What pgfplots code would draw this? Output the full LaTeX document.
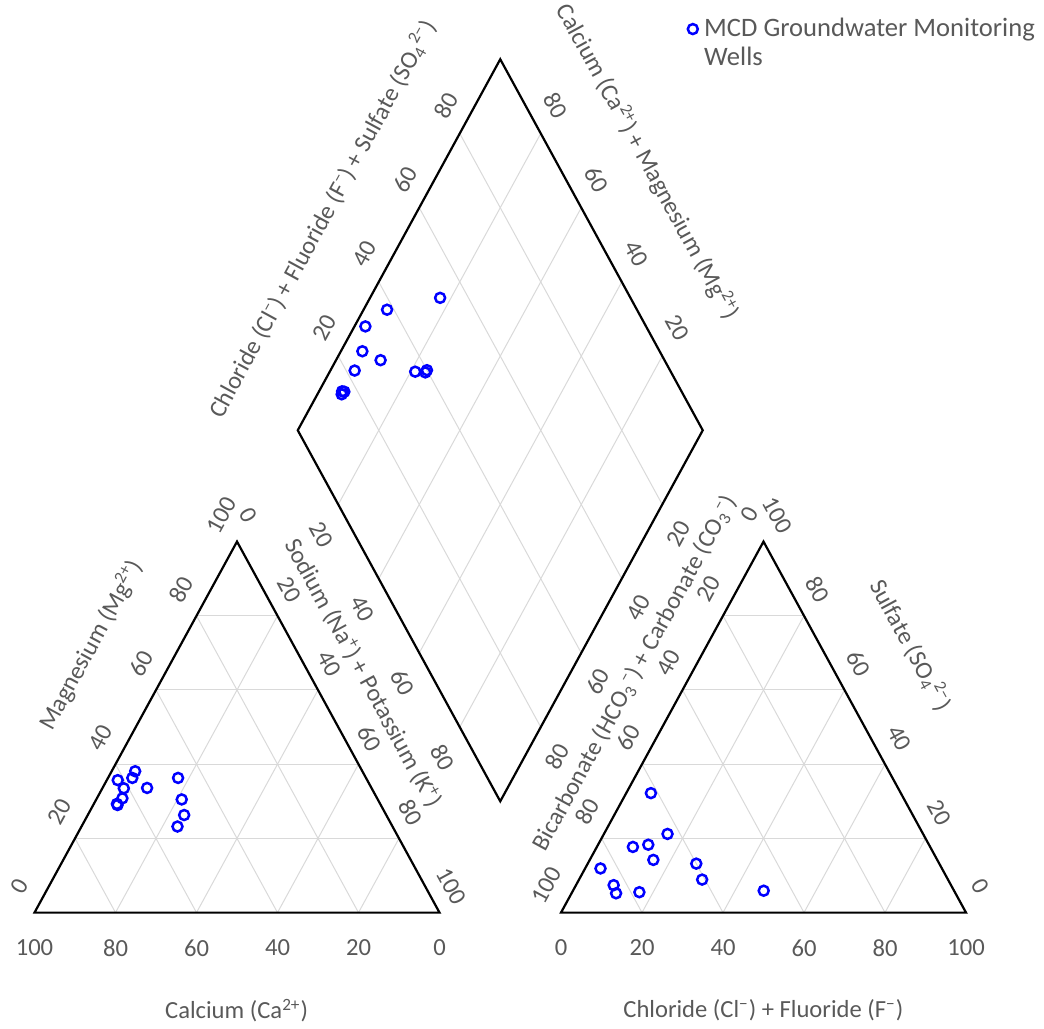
\documentclass[border=0pt]{standalone}
\usepackage{fontspec}
\setmainfont{Carlito}
\usepackage{pgfplots}
\usepackage{pgfplotstable}
\pgfplotsset{compat=1.18}
\definecolor{lbl}{HTML}{595959}
\definecolor{grd}{HTML}{D9D9D9}
\newcommand{\hh}{0.8660254}
\newcommand{\sups}[1]{\textsuperscript{#1}}
\newcommand{\subs}[1]{\textsubscript{#1}}
\tikzset{tl/.style={font=\fontsize{12.3}{14}\selectfont, text=lbl, inner sep=0pt}}

% one row per well: cation and anion percentages (meq %)
\pgfplotstableread{
Ca   Mg   Na   HCO3 Cl   SO4
46.4 36.3 17.3 47.0 47.1 5.9
56.1 38.1 5.8  61.7 6.1  32.2
61.6 35.7 2.7  69.3 12.4 18.3
61.2 33.5 5.3  73.4 8.9  17.7
55.4 33.6 11.0 70.1 15.7 14.2
57.7 36.3 6.0  77.9 16.6 5.5
48.4 30.5 21.1 63.1 15.7 21.2
49.9 26.3 23.8 60.0 26.8 13.2
53.1 23.2 23.7 60.7 30.4 8.9
62.9 30.8 6.3  83.3 9.3  7.4
65.0 29.3 5.7  83.8 11.0 5.2
65.0 29.0 6.0  84.3 3.8  11.9
}\wells

\begin{document}
\begin{tikzpicture}
\begin{axis}[
  x=2.025pt, y=2.142pt,
  xmin=-8.52, xmax=249.26, ymin=-26.96, ymax=212.77,
  hide axis, clip=false,
  legend style={at={(0.6571,0.9875)}, anchor=north west, draw=none, fill=none,
    inner sep=0pt, column sep=0.5pt, text=lbl,
    font=\fontsize{13.3}{14.5}\selectfont, cells={align=left}},
  legend image code/.code={\path (0pt,-7.25pt) (6pt,7.25pt); \draw[#1] plot coordinates {(3pt,7.25pt)};},
]
% grid lines
\pgfplotsinvokeforeach{20,40,60,80}{
 \draw[grd, line width=0.5pt] (axis cs:{#1/2},{\hh*#1}) -- (axis cs:{100-#1/2},{\hh*#1});
 \draw[grd, line width=0.5pt] (axis cs:#1,0) -- (axis cs:{50+#1/2},{\hh*(100-#1)});
 \draw[grd, line width=0.5pt] (axis cs:{100-#1},0) -- (axis cs:{50-#1/2},{\hh*(100-#1)});
 \draw[grd, line width=0.5pt] (axis cs:{130+#1/2},{\hh*#1}) -- (axis cs:{230-#1/2},{\hh*#1});
 \draw[grd, line width=0.5pt] (axis cs:{130+#1},0) -- (axis cs:{180+#1/2},{\hh*(100-#1)});
 \draw[grd, line width=0.5pt] (axis cs:{230-#1},0) -- (axis cs:{180-#1/2},{\hh*(100-#1)});
 \draw[grd, line width=0.5pt] (axis cs:{115+#1/2},{25.98+\hh*#1}) -- (axis cs:{65+#1/2},{112.58+\hh*#1});
 \draw[grd, line width=0.5pt] (axis cs:{115-#1/2},{25.98+\hh*#1}) -- (axis cs:{165-#1/2},{112.58+\hh*#1});
}
% outlines
\draw[black, line width=1.1pt, line join=miter] (axis cs:0,0) -- (axis cs:100,0) -- (axis cs:50,86.6025) -- cycle;
\draw[black, line width=1.1pt, line join=miter] (axis cs:130,0) -- (axis cs:230,0) -- (axis cs:180,86.6025) -- cycle;
\draw[black, line width=1.1pt, line join=miter] (axis cs:115,25.98) -- (axis cs:165,112.58) -- (axis cs:115,199.19) -- (axis cs:65,112.58) -- cycle;
% tick labels
\pgfplotsinvokeforeach{0,20,40,60,80,100}{
 \node[tl, yshift=-17.6pt] at (axis cs:{100-#1},0) {#1};
 \node[tl, xshift=-7.5pt, yshift=13.25pt, rotate=61.4] at (axis cs:{#1/2},{\hh*#1}) {#1};
 \node[tl, xshift=5.75pt, yshift=13pt, rotate=-61.4] at (axis cs:{50+#1/2},{\hh*(100-#1)}) {#1};
 \node[tl, yshift=-17.6pt] at (axis cs:{130+#1},0) {#1};
 \node[tl, xshift=-7pt, yshift=13.5pt, rotate=61.4] at (axis cs:{130+(100-#1)/2},{\hh*(100-#1)}) {#1};
 \node[tl, xshift=7pt, yshift=13pt, rotate=-61.4] at (axis cs:{230-#1/2},{\hh*#1}) {#1};
}
\pgfplotsinvokeforeach{20,40,60,80}{
 \node[tl, xshift=-7pt, yshift=14pt, rotate=61.4] at (axis cs:{65+#1/2},{112.58+\hh*#1}) {#1};
 \node[tl, xshift=7.5pt, yshift=14pt, rotate=-61.4] at (axis cs:{165-#1/2},{112.58+\hh*#1}) {#1};
 \node[tl, xshift=-8.25pt, yshift=-15pt, rotate=-61.4] at (axis cs:{65+#1/2},{112.58-\hh*#1}) {#1};
 \node[tl, xshift=8.25pt, yshift=-14.5pt, rotate=61.4] at (axis cs:{165-#1/2},{112.58-\hh*#1}) {#1};
}
% axis titles
\node[tl] at (axis cs:49.9,-22.9) {Calcium (Ca\sups{2+})};
\node[tl, rotate=61.4] at (axis cs:13.95,62.44) {Magnesium (Mg\sups{2+})};
\node[tl, rotate=-61.4] at (axis cs:81.1,55.9) {Sodium (Na\sups{+}) + Potassium (K\sups{+})};
\node[tl] at (axis cs:179.95,-22.9) {Chloride (Cl\sups{−}) + Fluoride (F\sups{−})};
\node[tl, rotate=61.4] at (axis cs:148.3,55.9) {Bicarbonate (HCO\subs{3}\sups{−}) + Carbonate (CO\subs{3}\sups{−})};
\node[tl, rotate=-61.4] at (axis cs:216.4,62.4) {Sulfate (SO\subs{4}\sups{2−})};
\node[tl, rotate=61.4] at (axis cs:71.1,161.9) {Chloride (Cl\sups{−}) + Fluoride (F\sups{−}) + Sulfate (SO\subs{4}\sups{2−})};
\node[tl, rotate=-61.4] at (axis cs:151.4,175.3) {Calcium (Ca\sups{2+}) + Magnesium (Mg\sups{2+})};
\path (axis cs:-8.52,-26.96) rectangle (axis cs:249.26,212.77);
% data
\addplot[only marks, mark=o, color=blue, mark size=2.5pt, mark options={line width=1.25pt}]
  table[x expr={\thisrow{Na}+0.5*\thisrow{Mg}}, y expr={\hh*\thisrow{Mg}}] {\wells};
\addlegendentry{MCD Groundwater Monitoring\\Wells}
\addplot[only marks, mark=o, color=blue, mark size=2.5pt, mark options={line width=1.25pt}, forget plot]
  table[x expr={130+\thisrow{Cl}+0.5*\thisrow{SO4}}, y expr={\hh*\thisrow{SO4}}] {\wells};
\addplot[only marks, mark=o, color=blue, mark size=2.5pt, mark options={line width=1.25pt}, forget plot]
  table[x expr={115+0.5*(\thisrow{Cl}+\thisrow{SO4}-\thisrow{Ca}-\thisrow{Mg})},
        y expr={25.98+\hh*(\thisrow{Cl}+\thisrow{SO4}+\thisrow{Ca}+\thisrow{Mg})}] {\wells};
\end{axis}
\end{tikzpicture}
\end{document}
